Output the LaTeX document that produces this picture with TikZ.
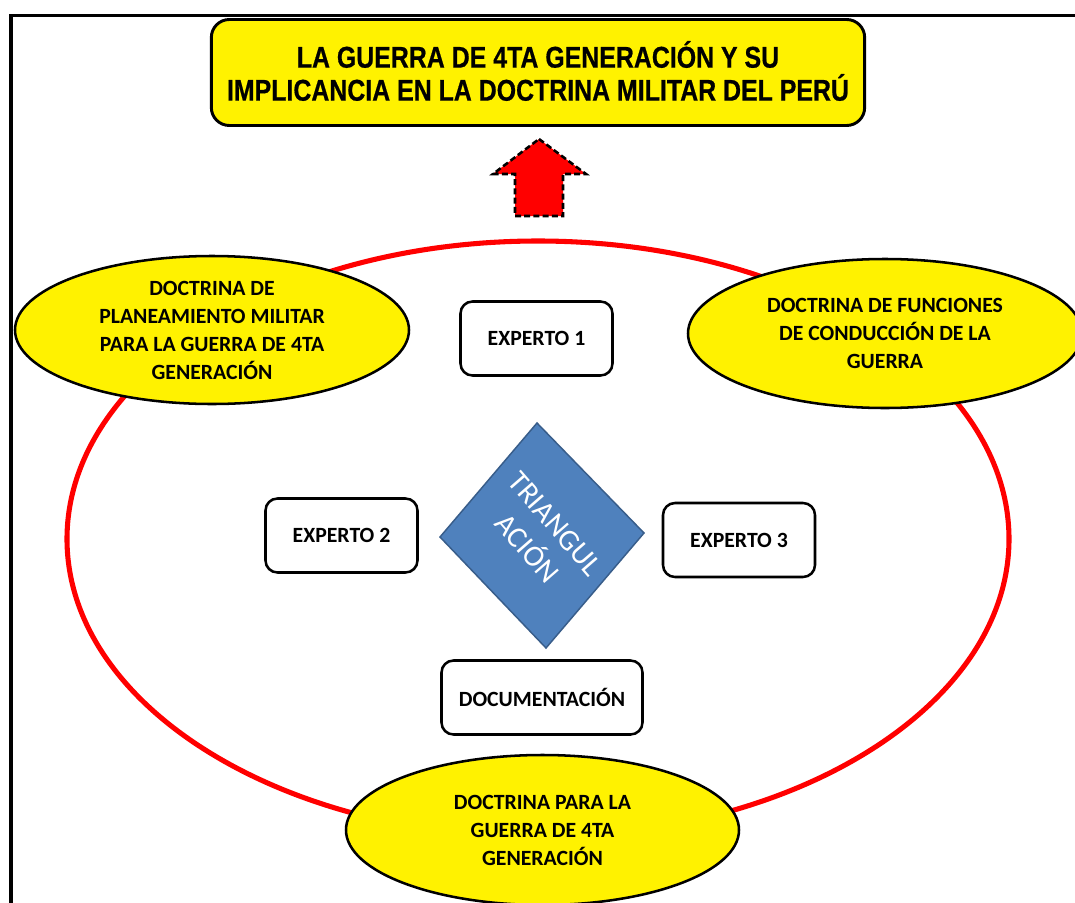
\documentclass[tikz,border=0pt]{standalone}
\usepackage{fontspec}
\usetikzlibrary{shapes.geometric}
\newfontfamily\cfont{Carlito}
\newfontfamily\titlefont[FakeStretch=0.83,FakeBold=0.6]{Liberation Sans Bold}
\definecolor{diamfill}{HTML}{4F81BD}
\definecolor{diamedge}{HTML}{385D8A}
\begin{document}
\begin{tikzpicture}[x=0.75pt,y=-0.75pt,
  frameline/.style={line width=2.6pt},
  ringstyle/.style={ellipse, draw=red, line width=3.8pt, inner sep=0pt,
    minimum width=706.5pt, minimum height=447pt},
  yell/.style={ellipse, draw=black, line width=1.9pt, fill=yellow, inner sep=0pt,
    minimum width=295.5pt, minimum height=111pt},
  ytext/.style={align=center, inner sep=0pt,
    font=\cfont\bfseries\fontsize{16.3}{21}\selectfont},
  expbox/.style={draw=black, line width=1.9pt, fill=white, rounded corners=9pt,
    minimum width=114pt, minimum height=55.5pt, inner sep=0pt,
    font=\cfont\bfseries\fontsize{16.3}{20}\selectfont},
  titlebox/.style={draw=black, line width=2.2pt, fill=yellow, rounded corners=13.5pt,
    minimum width=490pt, minimum height=79.5pt, inner sep=0pt, align=center,
    font=\titlefont\fontsize{22.5}{24.75}\selectfont},
  diamstyle/.style={fill=diamfill, draw=diamedge, line width=1.1pt},
  diamtext/.style={text=white, align=center, rotate=-49, inner sep=0pt,
    font=\cfont\fontsize{22.5}{28}\selectfont},
  bigarrow/.style={fill=red, draw=black, line width=1.9pt,
    dash pattern=on 4.5pt off 2.4pt, line join=miter}
]
\clip (0,0) rectangle (1075,903);
\fill[white] (0,0) rectangle (1075,903);

% frame
\draw[frameline] (11,910) -- (11,15.5) -- (1085,15.5);

% red ring
\node[ringstyle] (ring) at (538,539) {};

% yellow ellipses
\node[yell] (eleft) at (212,330) {};
\node[ytext] (tleft) at (eleft) {DOCTRINA DE\\PLANEAMIENTO MILITAR\\PARA LA GUERRA DE 4TA\\GENERACIÓN};
\node[yell, minimum height=111.75pt] (eright) at (885,333.5) {};
\node[ytext] (tright) at (eright) {DOCTRINA DE FUNCIONES\\DE CONDUCCIÓN DE LA\\GUERRA};
\node[yell, minimum width=294.75pt, minimum height=112.5pt] (ebottom) at (542.5,830) {};
\node[ytext] (tbottom) at (ebottom) {DOCTRINA PARA LA\\GUERRA DE 4TA\\GENERACIÓN};

% expert boxes
\node[expbox] (exp1) at (536.5,338.5) {EXPERTO 1};
\node[expbox] (exp2) at (341.5,535.5) {EXPERTO 2};
\node[expbox] (exp3) at (739,540) {EXPERTO 3};
\node[expbox, minimum width=150.75pt] (doc) at (542,697.5) {DOCUMENTACIÓN};

% diamond
\coordinate (dtop) at (537,423);
\coordinate (dright) at (644,533);
\coordinate (dbottom) at (546,648);
\coordinate (dleft) at (440,537);
\draw[diamstyle] (dtop) -- (dright) -- (dbottom) -- (dleft) -- cycle;
\node[diamtext] (tri) at (541,536) {TRIANGUL\\ACIÓN};

% block arrow
\draw[bigarrow] (539,139) -- (586,174) -- (563,174) -- (563,216) -- (515,216)
  -- (515,174) -- (493,174) -- cycle;

% title
\node[titlebox, text height=0pt] (title) at (538,72.5) {};
\node[align=center, inner sep=0pt, font=\titlefont\fontsize{22.5}{24.75}\selectfont] (titletext) at (538,71) {LA GUERRA DE 4TA GENERACIÓN Y SU\\IMPLICANCIA EN LA DOCTRINA MILITAR DEL PERÚ};
\end{tikzpicture}
\end{document}
